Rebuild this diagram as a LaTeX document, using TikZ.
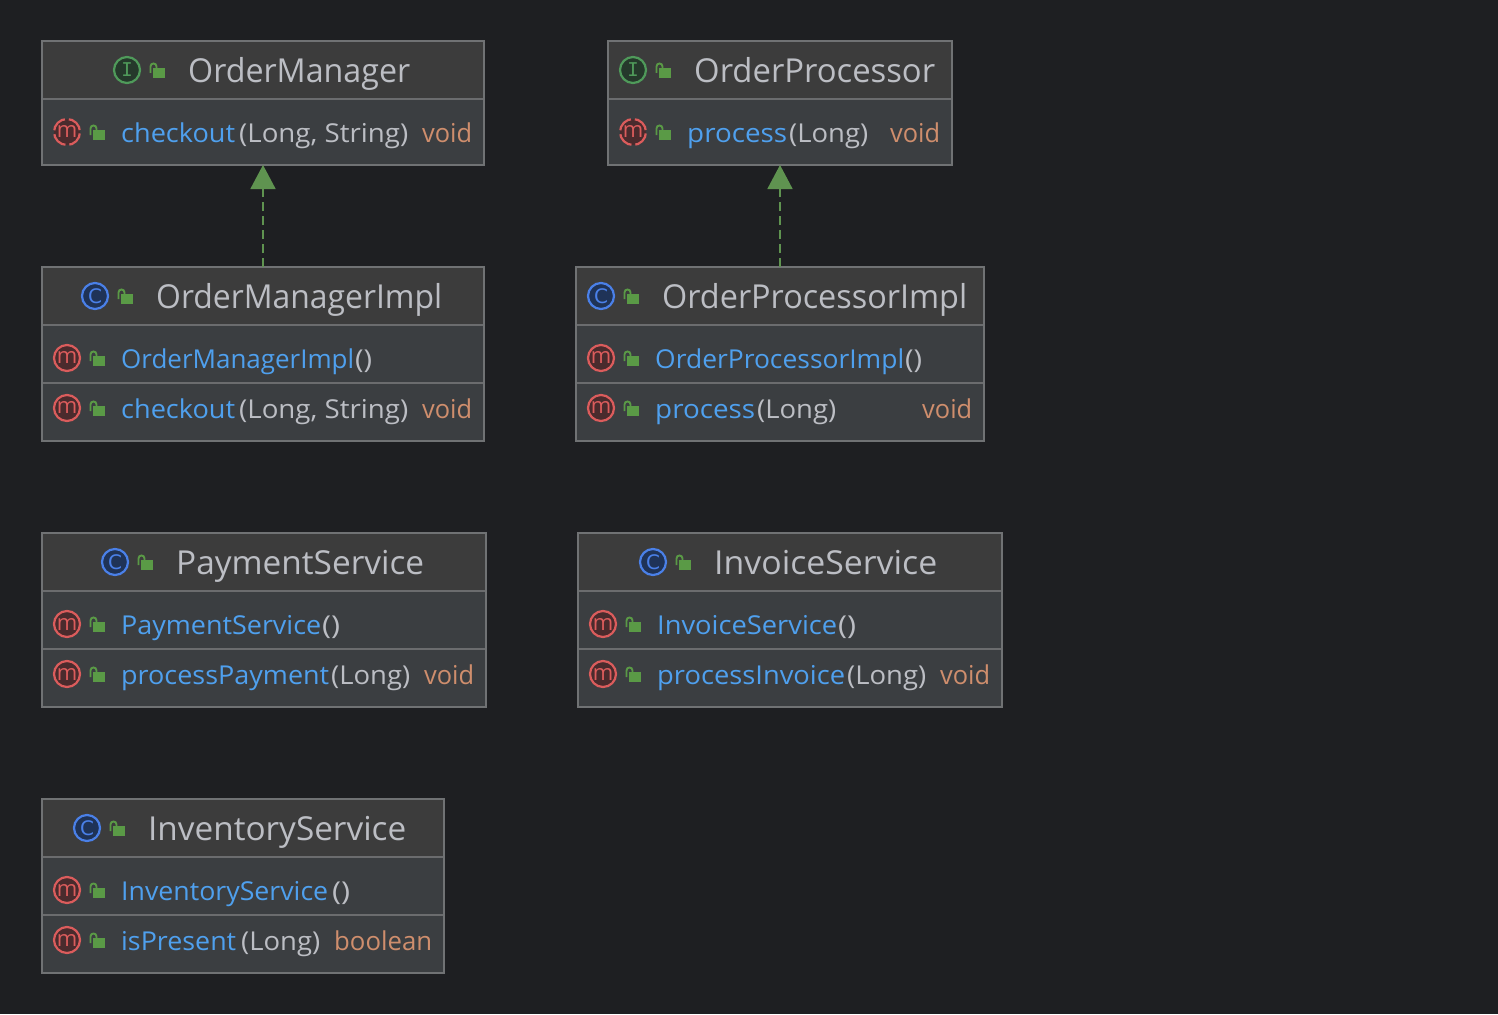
\documentclass[tikz,border=0pt]{standalone}
\usepackage{fontspec}
\usepackage{graphicx}
\setmainfont{Open Sans}
\newfontfamily\iconmono{DejaVu Sans Mono}
\newfontfamily\iconsans{DejaVu Sans}
\usetikzlibrary{arrows.meta}
\definecolor{bgc}{HTML}{1E1F22}
\definecolor{headc}{HTML}{3C3C3C}
\definecolor{rowc}{HTML}{3B3E41}
\definecolor{edgec}{HTML}{707274}
\definecolor{sepc}{HTML}{6B6C6E}
\definecolor{namec}{HTML}{BCBEC4}
\definecolor{blc}{HTML}{4FA0EE}
\definecolor{retc}{HTML}{CF8E6D}
\definecolor{lockc}{HTML}{5A9A46}
\definecolor{arrc}{HTML}{5F9350}
\definecolor{ifill}{HTML}{25392B}
\definecolor{iline}{HTML}{4F9A5A}
\definecolor{cfill}{HTML}{1F3357}
\definecolor{cline}{HTML}{4A80E8}
\definecolor{mfill}{HTML}{4A2B2D}
\definecolor{mline}{HTML}{DB5C5C}
\tikzset{
  x=1pt,y=-1pt,
  classbox/.style={draw=edgec,fill=rowc,line width=1.4pt,inner sep=0pt,outer sep=0pt,anchor=north west},
  headbox/.style={fill=headc,inner sep=0pt,outer sep=0pt,anchor=north west},
  run/.style={inner sep=0pt,anchor=base west,yshift=-0.5pt},
  ring/.style={line width=2.2pt},
  broken/.style={dash pattern=on 16.42pt off 4pt,dash phase=18.42pt},
  realize/.style={draw=arrc,line width=1.8pt,dash pattern=on 9pt off 5pt},
  hollowtip/.style={-{Triangle[length=24pt,width=25pt]}},
}
% #1 name, #2 x1, #3 x2, #4 ytop, #5 ybottom, #6 header bottom
\newcommand{\classnode}[6]{%
  \node[classbox,minimum width=#3pt-#2pt,minimum height=#5pt-#4pt] (#1) at (#2,#4) {};
  \node[headbox,minimum width=#3pt-#2pt-1.4pt,minimum height=#6pt-#4pt-0.7pt] (#1head) at (#2+0.7,#4+0.7) {};
  \draw[sepc,line width=2pt] (#2+1,#6) -- (#3-1,#6);
}
\newcommand{\rowsep}[3]{\draw[sepc,line width=2pt] (#1+1,#3) -- (#2-1,#3);}
\newcommand{\ttl}[4]{\node[run,text=namec] (#1) at (#2,#3) {\resizebox{#4}{\height}{\fontsize{33}{33}\selectfont #1}};}
\newcommand{\rowt}[6]{\node[run,text=#5] (#1) at (#2,#3) {\resizebox{#4}{\height}{\fontsize{26}{26}\selectfont #6}};}
\newcommand{\lockic}[2]{%
  \fill[lockc] (#1-4,#2-2) rectangle (#1+8,#2+8);
  \draw[lockc,line width=1.9pt] (#1-6.5,#2+3) -- (#1-6.5,#2-3.5) .. controls (#1-6.5,#2-7.5) and (#1-0.5,#2-7.5) .. (#1-0.5,#2-3.5) -- (#1-0.5,#2-1);
}
\newcommand{\circic}[7][]{\node[circle,minimum size=26pt,inner sep=0pt,fill=#5,draw=#6,ring,text=#6,#1] (#2) at (#3,#4) {#7};}
\newcommand{\iI}{\fontsize{19}{19}\iconmono\selectfont I}
\newcommand{\iC}{\fontsize{20}{20}\iconsans\selectfont C}
\newcommand{\iM}{\fontsize{22}{22}\selectfont m}
\begin{document}
\begin{tikzpicture}
\useasboundingbox (0,0) rectangle (1498,1014);
\fill[bgc] (0,0) rectangle (1498,1014);
% boxes
\classnode{mgr}{42}{484}{41}{165}{99}
\classnode{proc}{608}{952}{41}{165}{99}
\classnode{mgrimpl}{42}{484}{267}{441}{325}
\rowsep{42}{484}{383}
\classnode{procimpl}{576}{984}{267}{441}{325}
\rowsep{576}{984}{383}
\classnode{pay}{42}{486}{533}{707}{591}
\rowsep{42}{486}{649}
\classnode{inv}{578}{1002}{533}{707}{591}
\rowsep{578}{1002}{649}
\classnode{stock}{42}{444}{799}{973}{857}
\rowsep{42}{444}{915}
% connectors
\draw[realize,hollowtip] (mgrimpl.north) -- (mgr.south);
\draw[realize,hollowtip] (procimpl.north) -- (proc.south);
% OrderManager
\circic{i1}{127}{70}{ifill}{iline}{\iI}\lockic{157}{70}
\ttl{OrderManager}{188}{82}{222pt}
\circic[broken]{m1}{67}{132}{mfill}{mline}{\iM}\lockic{97}{132}
\rowt{a1}{121}{142}{114pt}{blc}{checkout}
\rowt{a2}{239}{142}{169pt}{namec}{(Long, String)}
\rowt{a3}{422}{142}{50pt}{retc}{void}
% OrderProcessor
\circic{i2}{633}{70}{ifill}{iline}{\iI}\lockic{663}{70}
\ttl{OrderProcessor}{694}{82}{241pt}
\circic[broken]{m2}{633}{132}{mfill}{mline}{\iM}\lockic{663}{132}
\rowt{b1}{687}{142}{100pt}{blc}{process}
\rowt{b2}{789}{142}{79pt}{namec}{(Long)}
\rowt{b3}{890}{142}{50pt}{retc}{void}
% OrderManagerImpl
\circic{c1}{95}{296}{cfill}{cline}{\iC}\lockic{125}{296}
\ttl{OrderManagerImpl}{156}{308}{286pt}
\circic{m3}{67}{358}{mfill}{mline}{\iM}\lockic{97}{358}
\rowt{c2}{121}{368}{233pt}{blc}{OrderManagerImpl}
\rowt{c3}{355}{368}{17pt}{namec}{()}
\circic{m4}{67}{408}{mfill}{mline}{\iM}\lockic{97}{408}
\rowt{c4}{121}{418}{114pt}{blc}{checkout}
\rowt{c5}{239}{418}{169pt}{namec}{(Long, String)}
\rowt{c6}{422}{418}{50pt}{retc}{void}
% OrderProcessorImpl
\circic{d1}{601}{296}{cfill}{cline}{\iC}\lockic{631}{296}
\ttl{OrderProcessorImpl}{662}{308}{305pt}
\circic{m5}{601}{358}{mfill}{mline}{\iM}\lockic{631}{358}
\rowt{d2}{655}{368}{249pt}{blc}{OrderProcessorImpl}
\rowt{d3}{905}{368}{17pt}{namec}{()}
\circic{m6}{601}{408}{mfill}{mline}{\iM}\lockic{631}{408}
\rowt{d4}{655}{418}{100pt}{blc}{process}
\rowt{d5}{757}{418}{79pt}{namec}{(Long)}
\rowt{d6}{922}{418}{50pt}{retc}{void}
% PaymentService
\circic{e1}{115}{562}{cfill}{cline}{\iC}\lockic{145}{562}
\ttl{PaymentService}{176}{574}{248pt}
\circic{m7}{67}{624}{mfill}{mline}{\iM}\lockic{97}{624}
\rowt{e2}{121}{634}{200pt}{blc}{PaymentService}
\rowt{e3}{322}{634}{18pt}{namec}{()}
\circic{m8}{67}{674}{mfill}{mline}{\iM}\lockic{97}{674}
\rowt{e4}{121}{684}{208pt}{blc}{processPayment}
\rowt{e5}{331}{684}{79pt}{namec}{(Long)}
\rowt{e6}{424}{684}{50pt}{retc}{void}
% InvoiceService
\circic{f1}{653}{562}{cfill}{cline}{\iC}\lockic{683}{562}
\ttl{InvoiceService}{714}{574}{223pt}
\circic{m9}{603}{624}{mfill}{mline}{\iM}\lockic{633}{624}
\rowt{f2}{657}{634}{180pt}{blc}{InvoiceService}
\rowt{f3}{838}{634}{18pt}{namec}{()}
\circic{m10}{603}{674}{mfill}{mline}{\iM}\lockic{633}{674}
\rowt{f4}{657}{684}{188pt}{blc}{processInvoice}
\rowt{f5}{847}{684}{79pt}{namec}{(Long)}
\rowt{f6}{940}{684}{50pt}{retc}{void}
% InventoryService
\circic{g1}{87}{828}{cfill}{cline}{\iC}\lockic{117}{828}
\ttl{InventoryService}{148}{840}{258pt}
\circic{m11}{67}{890}{mfill}{mline}{\iM}\lockic{97}{890}
\rowt{g2}{121}{900}{207pt}{blc}{InventoryService}
\rowt{g3}{332}{900}{18pt}{namec}{()}
\circic{m12}{67}{940}{mfill}{mline}{\iM}\lockic{97}{940}
\rowt{g4}{121}{950}{115pt}{blc}{isPresent}
\rowt{g5}{241}{950}{79pt}{namec}{(Long)}
\rowt{g6}{334}{950}{98pt}{retc}{boolean}
\end{tikzpicture}
\end{document}
